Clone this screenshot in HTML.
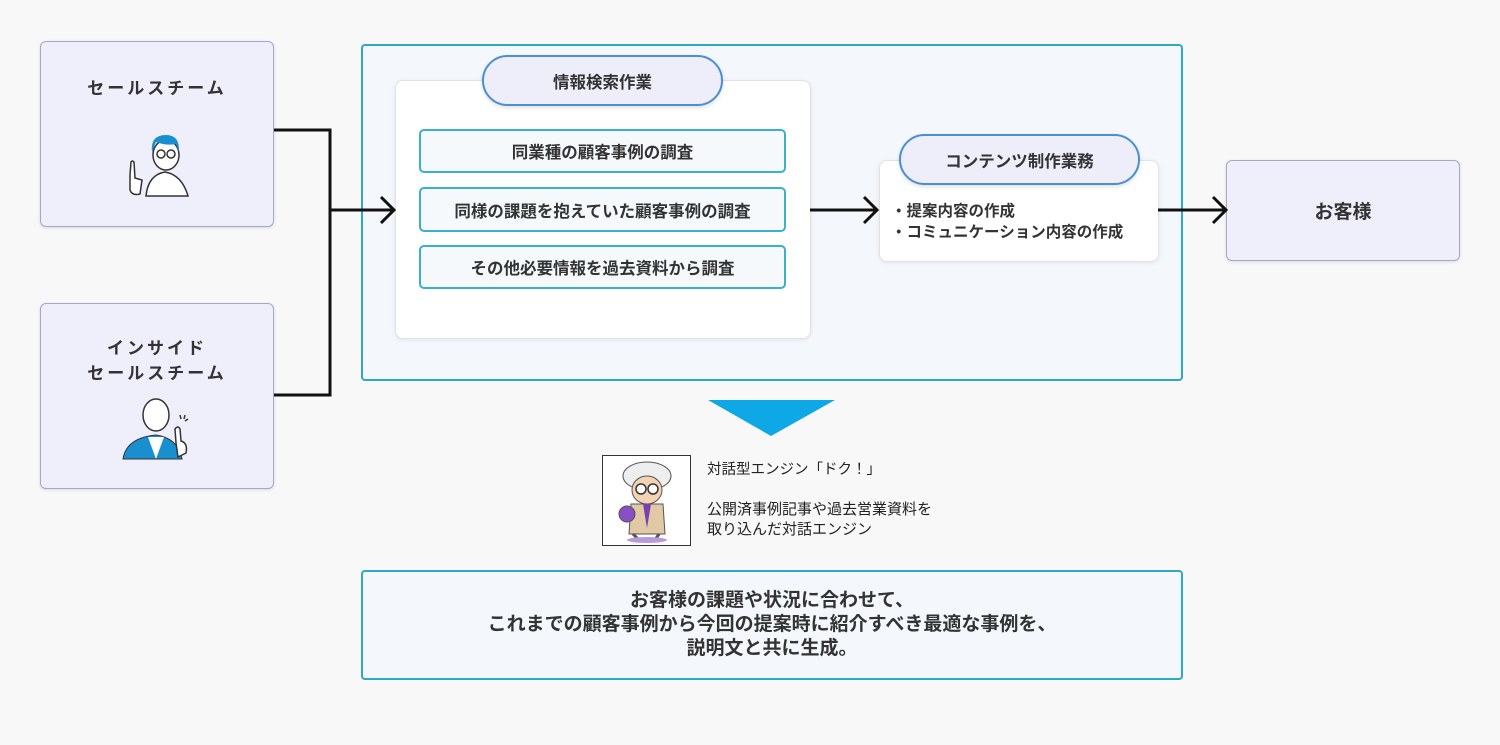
<!DOCTYPE html>
<html><head><meta charset="utf-8"><style>
body{margin:0;width:1500px;height:745px;background:#f8f8f8;position:relative;overflow:hidden;font-family:"Liberation Sans","Noto Sans CJK JP",sans-serif;color:#333;}
.a{position:absolute;box-sizing:border-box;}
.c{display:flex;align-items:center;justify-content:center;text-align:center;}
.team{background:#efeefb;border:1px solid #a9a6cc;border-radius:6px;box-shadow:0 1px 3px rgba(0,0,0,.12);}
.tt{font-weight:bold;font-size:17px;letter-spacing:3px;line-height:25px;}
.item{background:#f5f9fc;border:2px solid #3bb0c9;border-radius:5px;font-weight:bold;font-size:16.5px;}
.card{background:#fff;border:1px solid #e2e2e2;border-radius:8px;box-shadow:0 1px 4px rgba(0,0,0,.08);}
.pill{background:#eeeefb;border:2px solid #4a8fcf;border-radius:26px;font-weight:bold;font-size:16.5px;box-shadow:0 2px 4px rgba(0,0,0,.12);}
</style></head><body>
<div class="a team" style="left:40px;top:41px;width:234px;height:186px"></div>
<div class="a tt c" style="left:40px;top:76px;width:234px;">セールスチーム</div>
<div class="a team" style="left:40px;top:303px;width:234px;height:186px"></div>
<div class="a tt c" style="left:40px;top:336px;width:234px;">インサイド<br>セールスチーム</div>
<svg class="a" style="left:120px;top:130px" width="75" height="70" viewBox="0 0 75 70">
<path d="M26 66 Q28 45 45 42 Q62 45 68 66Z" fill="#fff" stroke="#333" stroke-width="1.5"/>
<ellipse cx="46" cy="25" rx="13" ry="15" fill="#fff" stroke="#333" stroke-width="1.5"/>
<path d="M32 22 Q30 5 46 5 Q60 5 59 22 L56 14 Q46 16 36 12Z" fill="#1a8fd0"/>
<circle cx="41" cy="24" r="4" fill="none" stroke="#333" stroke-width="1.5"/><circle cx="51" cy="24" r="4" fill="none" stroke="#333" stroke-width="1.5"/>
<path d="M10 45 L10 60 Q12 66 20 64 L22 50 L15 48 L14 32 Q12 30 11 32Z" fill="#fff" stroke="#333" stroke-width="1.5"/>
</svg>
<svg class="a" style="left:120px;top:393px" width="75" height="70" viewBox="0 0 75 70">
<path d="M3 66 Q6 45 36 42 Q58 45 62 66Z" fill="#1a8fd0" stroke="#333" stroke-width="1"/>
<path d="M28 44 L36 66 L44 44Z" fill="#fff"/>
<ellipse cx="36" cy="22" rx="13" ry="16" fill="#fff" stroke="#333" stroke-width="1.5"/>
<path d="M56 50 L55 36 Q58 32 60 36 L61 48 Q68 50 66 60 L58 64Z" fill="#fff" stroke="#333" stroke-width="1.5"/>
<path d="M60 22l1 4M65 22l-1 4M68 26l-3 2" stroke="#333" stroke-width="1.5"/>
</svg>
<svg class="a" style="left:0;top:0" width="1500" height="745">
<path d="M274 130H330V395H274" fill="none" stroke="#111" stroke-width="3"/>
</svg>
<div class="a" style="left:361px;top:44px;width:822px;height:337px;border:2px solid #2ea9c2;border-radius:4px;background:#f4f7fb"></div>
<div class="a card" style="left:395px;top:80px;width:416px;height:259px"></div>
<div class="a pill c" style="left:482px;top:55px;width:241px;height:51px">情報検索作業</div>
<div class="a item c" style="left:419px;top:129px;width:367px;height:44px">同業種の顧客事例の調査</div>
<div class="a item c" style="left:419px;top:187px;width:367px;height:45px">同様の課題を抱えていた顧客事例の調査</div>
<div class="a item c" style="left:419px;top:245px;width:367px;height:44px">その他必要情報を過去資料から調査</div>
<div class="a card" style="left:879px;top:160px;width:280px;height:102px"></div>
<div class="a pill c" style="left:899px;top:134px;width:241px;height:51px">コンテンツ制作業務</div>
<div class="a" style="left:891px;top:201px;font-size:15.5px;font-weight:bold;line-height:21px;">・提案内容の作成<br>・コミュニケーション内容の作成</div>
<div class="a team c" style="left:1226px;top:160px;width:234px;height:101px;font-weight:bold;font-size:19px;">お客様</div>
<svg class="a" style="left:0;top:0" width="1500" height="745">
<g fill="none" stroke="#111" stroke-width="3">
<path d="M330 210H394M381 197L394 210L381 223"/>
<path d="M810 210H877M864 197L877 210L864 223"/>
<path d="M1158 210H1226M1213 197L1226 210L1213 223"/>
</g>
<polygon points="708,400 835,400 771,436" fill="#0ea8e6"/>
</svg>
<div class="a" style="left:602px;top:455px;width:89px;height:91px;border:1px solid #333;background:#fff"></div>
<svg class="a" style="left:603px;top:456px" width="87" height="89" viewBox="0 0 87 89">
<ellipse cx="44" cy="20" rx="24" ry="14" fill="#eee" stroke="#555"/>
<ellipse cx="44" cy="34" rx="15" ry="14" fill="#f3d3b4" stroke="#555"/>
<circle cx="38" cy="33" r="5" fill="#fff" stroke="#333" stroke-width="1.5"/><circle cx="50" cy="33" r="5" fill="#fff" stroke="#333" stroke-width="1.5"/>
<path d="M28 48 L60 48 L62 78 L26 78Z" fill="#e0c9a4" stroke="#555"/>
<path d="M40 48 L44 72 L48 48" fill="#7a3fb0"/>
<circle cx="24" cy="58" r="8" fill="#8a4fc6" stroke="#555"/>
<path d="M30 78 L36 84 M56 78 L52 84" stroke="#555" stroke-width="3"/>
<ellipse cx="44" cy="84" rx="20" ry="3" fill="#b89ad8"/>
</svg>
<div class="a" style="left:707px;top:460px;font-size:14.5px;line-height:20px;color:#222">対話型エンジン「ドク！」</div>
<div class="a" style="left:707px;top:500px;font-size:15px;line-height:20px;color:#222">公開済事例記事や過去営業資料を<br>取り込んだ対話エンジン</div>
<div class="a c" style="left:361px;top:570px;width:822px;height:110px;border:2px solid #2ea9c2;border-radius:4px;background:#f4f7fb;font-weight:bold;font-size:19px;line-height:24px;">お客様の課題や状況に合わせて、<br>これまでの顧客事例から今回の提案時に紹介すべき最適な事例を、<br>説明文と共に生成。</div>
</body></html>
